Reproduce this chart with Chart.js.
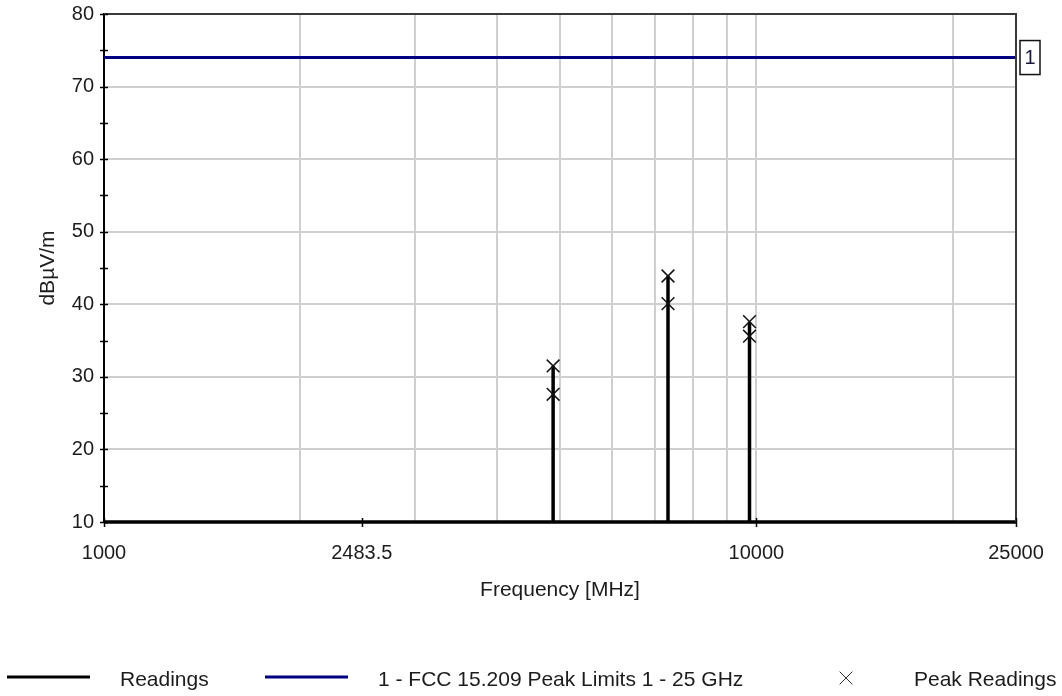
<!DOCTYPE html>
<html>
<head>
<meta charset="utf-8">
<title>Radiated emissions 1 - 25 GHz</title>
<script src="https://cdn.jsdelivr.net/npm/chart.js@4.4.1/dist/chart.umd.min.js"></script>
<style>
  html, body { margin: 0; padding: 0; background: #ffffff; }
  canvas { display: block; }
</style>
</head>
<body>
<canvas id="chart" width="1062" height="696"></canvas>
<script>
// Measured harmonic peaks (MHz) and their two peak readings (dBµV/m)
const peakFreqs = [4880, 7320, 9760];
const peakHigh  = [31.5, 43.9, 37.6];
const peakLow   = [27.6, 40.1, 35.6];

// Sweep range and noise floor of the readings trace
const sweepStart = 1000;
const sweepStop  = 25000;
const floorLevel = 10;

// FCC 15.209 peak limit
const limitLevel = 74;
const limitTag   = '1';

// Axis ticks
const xLabelTicks = [1000, 2483.5, 10000, 25000];
const xGridTicks  = [2000, 3000, 4000, 5000, 6000, 7000, 8000, 9000, 10000, 20000];
const yMin = 10, yMax = 80, yStep = 10, yMinorStep = 5;

// Texts
const seriesNames = ['Readings', '1 - FCC 15.209 Peak Limits 1 - 25 GHz', 'Peak Readings'];
const xTitle = 'Frequency [MHz]';
const yTitle = 'dBµV/m';

// Readings trace: flat floor with a vertical spike at each harmonic
const readingsTrace = [{ x: sweepStart, y: floorLevel }];
peakFreqs.forEach((f, i) => {
  const top = Math.max(peakHigh[i], peakLow[i]);
  readingsTrace.push({ x: f, y: floorLevel }, { x: f, y: top }, { x: f, y: floorLevel });
});
readingsTrace.push({ x: sweepStop, y: floorLevel });

const limitTrace = [{ x: sweepStart, y: limitLevel }, { x: sweepStop, y: limitLevel }];

const peakPoints = [];
peakFreqs.forEach((f, i) => {
  peakPoints.push({ x: f, y: peakHigh[i] }, { x: f, y: peakLow[i] });
});

const FONT = "'Liberation Sans', Arial, sans-serif";
const TEXT = '#1c1c1c';
const GRID = '#cfcfcf';
Chart.defaults.font.family = FONT;

// Frame, crossing tick marks, limit tag and the bottom legend
const decorations = {
  id: 'decorations',
  afterDatasetsDraw(chart) {
    const { ctx, chartArea: a, scales: { x, y } } = chart;
    ctx.save();
    // top and right frame
    ctx.strokeStyle = '#3a3a3a';
    ctx.lineWidth = 2;
    ctx.beginPath();
    ctx.moveTo(a.left, a.top);
    ctx.lineTo(a.right, a.top);
    ctx.lineTo(a.right, a.bottom);
    ctx.stroke();

    // y tick marks (major and minor) crossing the axis
    ctx.strokeStyle = '#000';
    ctx.lineWidth = 1.5;
    for (let v = yMin; v <= yMax; v += yMinorStep) {
      const py = Math.round(y.getPixelForValue(v)) + 0.5;
      ctx.beginPath();
      ctx.moveTo(a.left - 4, py);
      ctx.lineTo(a.left + 4, py);
      ctx.stroke();
    }
    // x tick marks at labelled frequencies
    xLabelTicks.forEach(v => {
      const px = Math.round(x.getPixelForValue(v)) + 0.5;
      ctx.beginPath();
      ctx.moveTo(px, a.bottom - 4);
      ctx.lineTo(px, a.bottom + 5);
      ctx.stroke();
    });
    ctx.restore();
  },
  afterDraw(chart) {
    const { ctx, scales: { x, y } } = chart;
    ctx.save();
    // limit line tag
    const tx = x.getPixelForValue(sweepStop) + 4;
    const ty = y.getPixelForValue(limitLevel);
    ctx.fillStyle = '#fff';
    ctx.fillRect(tx, ty - 17, 20, 34);
    ctx.strokeStyle = '#111';
    ctx.lineWidth = 1.5;
    ctx.strokeRect(tx, ty - 17, 20, 34);
    ctx.fillStyle = '#1a1a40';
    ctx.font = '20px ' + FONT;
    ctx.textAlign = 'center';
    ctx.textBaseline = 'middle';
    ctx.fillText(limitTag, tx + 10, ty + 1);

    // legend
    const ds = chart.data.datasets;
    const ly = 677;
    ctx.font = '21px ' + FONT;
    ctx.textAlign = 'left';
    ctx.textBaseline = 'middle';
    ctx.fillStyle = TEXT;
    const lineItems = [
      { d: ds[2], x0: 7, x1: 90, tx: 120 },
      { d: ds[1], x0: 265, x1: 348, tx: 378 }
    ];
    lineItems.forEach(it => {
      ctx.strokeStyle = it.d.borderColor;
      ctx.lineWidth = 3;
      ctx.beginPath();
      ctx.moveTo(it.x0, ly);
      ctx.lineTo(it.x1, ly);
      ctx.stroke();
      ctx.fillText(it.d.label, it.tx, ly + 3);
    });
    ctx.strokeStyle = '#333';
    ctx.lineWidth = 1;
    Chart.helpers.drawPoint(ctx, {
      pointStyle: ds[0].pointStyle, radius: 9, borderWidth: 1
    }, 846, ly + 1);
    ctx.fillText(ds[0].label, 914, ly + 3);
    ctx.restore();
  }
};

new Chart(document.getElementById('chart'), {
  type: 'scatter',
  data: {
    datasets: [
      {
        label: seriesNames[2],
        data: peakPoints,
        showLine: false,
        pointStyle: 'crossRot',
        pointRadius: 9,
        pointBorderWidth: 1.5,
        pointBorderColor: '#111',
        borderColor: '#111',
        backgroundColor: 'transparent',
        order: 0
      },
      {
        label: seriesNames[1],
        data: limitTrace,
        showLine: true,
        borderColor: '#000080',
        borderWidth: 3,
        pointRadius: 0,
        order: 1
      },
      {
        label: seriesNames[0],
        data: readingsTrace,
        showLine: true,
        borderColor: '#000000',
        borderWidth: 3.5,
        pointRadius: 0,
        tension: 0,
        clip: false,
        order: 2
      }
    ]
  },
  options: {
    responsive: false,
    animation: false,
    devicePixelRatio: 1,
    layout: { padding: { left: 0, right: 46, top: 14, bottom: 93 } },
    plugins: {
      legend: { display: false },
      tooltip: { enabled: false }
    },
    scales: {
      x: {
        type: 'logarithmic',
        min: sweepStart,
        max: sweepStop,
        afterBuildTicks(scale) {
          const vals = Array.from(new Set([...xGridTicks, ...xLabelTicks])).sort((p, q) => p - q);
          scale.ticks = vals.map(v => ({ value: v }));
        },
        afterFit(scale) {
          scale.height = 81;
          scale.paddingLeft = 0;
          scale.paddingRight = 0;
        },
        ticks: {
          autoSkip: false,
          maxRotation: 0,
          padding: 19,
          color: TEXT,
          font: { size: 20 },
          callback: v => (xLabelTicks.includes(v) ? String(v) : '')
        },
        grid: {
          drawTicks: false,
          lineWidth: 2,
          color: c => (c.tick && xGridTicks.includes(c.tick.value) ? GRID : 'rgba(0,0,0,0)')
        },
        border: { color: '#000', width: 2 },
        title: {
          display: true,
          text: xTitle,
          color: TEXT,
          font: { size: 21 },
          padding: 0
        }
      },
      y: {
        type: 'linear',
        min: yMin,
        max: yMax,
        afterFit(scale) {
          scale.width = 104;
          scale.paddingTop = 0;
          scale.paddingBottom = 0;
        },
        ticks: {
          stepSize: yStep,
          padding: 10,
          color: TEXT,
          font: { size: 20 }
        },
        grid: {
          drawTicks: false,
          lineWidth: 2,
          color: c => (c.tick && c.tick.value > yMin && c.tick.value < yMax ? GRID : 'rgba(0,0,0,0)')
        },
        border: { color: '#000', width: 2 },
        title: {
          display: true,
          text: yTitle,
          color: TEXT,
          font: { size: 21 },
          padding: { top: 36, bottom: 36 }
        }
      }
    }
  },
  plugins: [decorations]
});
</script>
</body>
</html>
